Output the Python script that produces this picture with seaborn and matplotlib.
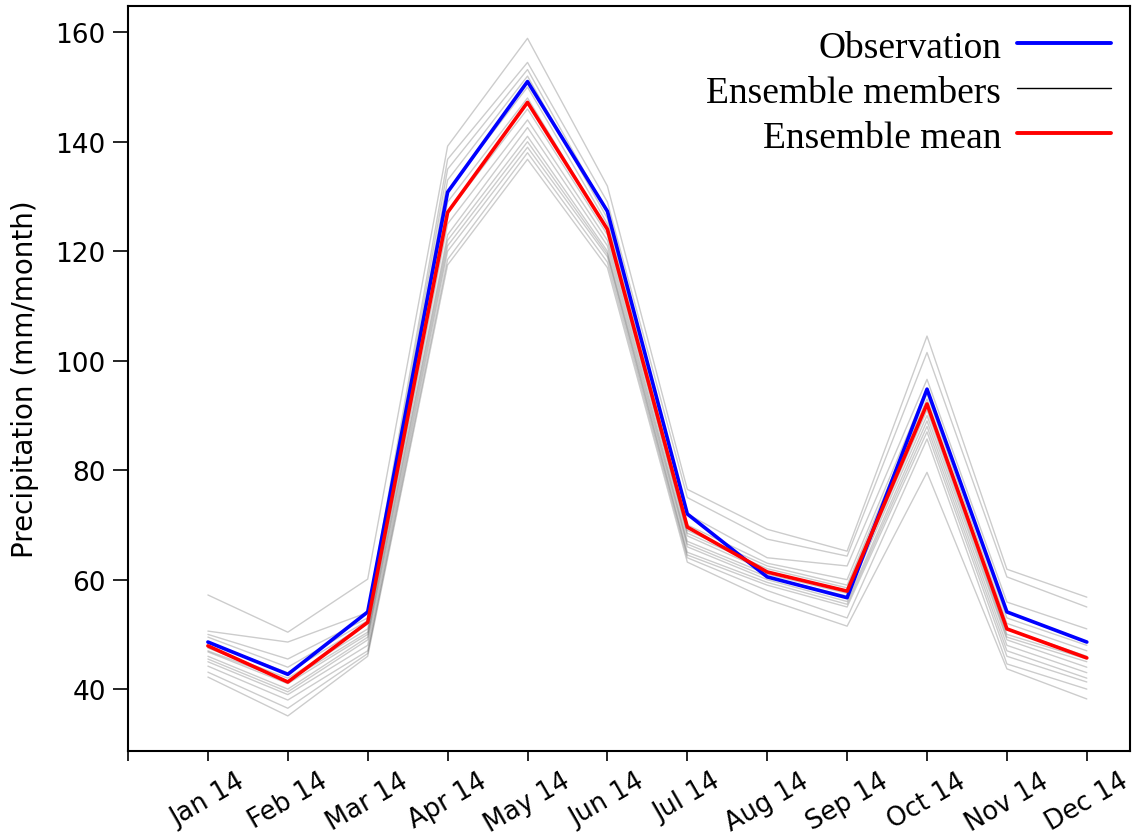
import numpy as np
import pandas as pd
import matplotlib
matplotlib.use("Agg")
import matplotlib.pyplot as plt
from matplotlib.lines import Line2D
import seaborn as sns

months = ["Jan 14", "Feb 14", "Mar 14", "Apr 14", "May 14", "Jun 14",
          "Jul 14", "Aug 14", "Sep 14", "Oct 14", "Nov 14", "Dec 14"]
tick_labels = [""] + months

observation = [48.6, 42.7, 54.1, 130.8, 151.0, 127.3, 72.0, 60.5, 56.7, 94.8, 54.1, 48.6]
ensemble_mean = [47.9, 41.3, 52.2, 127.1, 147.2, 124.0, 69.6, 61.4, 57.9, 92.1, 51.0, 45.7]

member_01 = [57.2, 50.4, 60.1, 139.2, 158.9, 131.9, 76.5, 69.2, 65.2, 104.5, 61.9, 56.8]
member_02 = [50.6, 48.6, 54.0, 136.8, 154.5, 129.0, 75.0, 67.4, 64.3, 101.5, 60.5, 55.0]
member_03 = [50.0, 45.5, 53.0, 135.0, 153.2, 127.0, 72.0, 64.0, 62.5, 96.6, 55.9, 51.0]
member_04 = [49.5, 44.0, 52.5, 133.0, 152.0, 126.0, 70.0, 63.0, 60.0, 95.0, 53.0, 48.0]
member_05 = [48.5, 43.0, 52.0, 131.0, 150.0, 125.0, 69.0, 62.5, 59.0, 94.0, 52.0, 47.0]
member_06 = [47.5, 42.0, 51.0, 129.0, 148.0, 124.0, 68.5, 62.0, 58.5, 93.0, 51.0, 46.0]
member_07 = [47.0, 41.5, 50.4, 127.0, 146.0, 123.0, 68.0, 61.5, 58.0, 92.0, 50.0, 45.5]
member_08 = [46.8, 41.0, 50.0, 125.0, 144.0, 122.0, 67.0, 61.0, 57.5, 91.0, 49.5, 45.0]
member_09 = [46.0, 40.0, 49.5, 123.0, 142.6, 121.0, 66.5, 60.5, 57.0, 90.0, 49.0, 44.0]
member_10 = [45.5, 39.5, 49.0, 122.0, 141.0, 120.0, 66.0, 60.0, 56.0, 89.0, 48.0, 43.0]
member_11 = [45.0, 39.0, 48.0, 121.0, 140.0, 119.5, 65.0, 59.5, 55.5, 88.0, 47.0, 42.0]
member_12 = [44.2, 38.0, 47.0, 120.0, 139.0, 119.0, 64.5, 59.0, 55.0, 87.0, 46.0, 41.3]
member_13 = [43.1, 36.5, 46.5, 118.5, 138.0, 118.0, 64.0, 58.0, 53.0, 85.7, 44.6, 40.0]
member_14 = [42.2, 35.1, 46.0, 117.5, 136.8, 117.0, 63.2, 56.4, 51.5, 79.6, 43.7, 38.2]

members = [member_01, member_02, member_03, member_04, member_05, member_06, member_07,
           member_08, member_09, member_10, member_11, member_12, member_13, member_14]

x_idx = np.arange(len(months))
df_members = pd.DataFrame(
    [(m, i, v) for m, series in enumerate(members) for i, v in zip(x_idx, series)],
    columns=["member", "month", "value"],
)
df_obs = pd.DataFrame({"month": x_idx, "value": observation})
df_mean = pd.DataFrame({"month": x_idx, "value": ensemble_mean})

sns.set_style("white")
plt.rcParams["font.family"] = ["DejaVu Sans"]
plt.rcParams["text.color"] = "black"
plt.rcParams["axes.labelcolor"] = "black"
plt.rcParams["xtick.color"] = "black"
plt.rcParams["ytick.color"] = "black"

fig = plt.figure(figsize=(11.46, 8.37), dpi=100)
ax = fig.add_axes([0.1117, 0.1016, 0.8743, 0.89])

sns.lineplot(data=df_members, x="month", y="value", units="member", estimator=None,
             color="k", alpha=0.2, linewidth=1.0, ax=ax, legend=False)
sns.lineplot(data=df_obs, x="month", y="value", color="#0000ff", linewidth=2.6,
             ax=ax, legend=False)
sns.lineplot(data=df_mean, x="month", y="value", color="#ff0000", linewidth=2.6,
             ax=ax, legend=False)

ax.set_xlim(-1, 11.54)
ax.set_ylim(28.7, 164.8)
ax.set_xticks(np.arange(-1, len(months)))
ax.set_xticklabels(tick_labels, rotation=30, ha="center", fontsize=18.5)
ax.set_yticks([40, 60, 80, 100, 120, 140, 160])
ax.tick_params(axis="y", labelsize=19, length=11, width=1.2, pad=5, left=True)
ax.tick_params(axis="x", length=7, width=1.2, pad=5, bottom=True)
ax.set_xlabel("")
ax.set_ylabel("Precipitation (mm/month)", fontsize=20, labelpad=12)
for s in ax.spines.values():
    s.set_visible(True)
    s.set_color("k")
    s.set_linewidth(1.5)

handles = [Line2D([], [], color="#0000ff", lw=2.8),
           Line2D([], [], color="k", lw=1.0),
           Line2D([], [], color="#ff0000", lw=2.8)]
labels = ["Observation", "Ensemble members", "Ensemble mean"]
ax.legend(handles, labels, loc="upper right", bbox_to_anchor=(1.007, 1.003),
          frameon=False, markerfirst=False,
          handlelength=2.5, handletextpad=0.42, labelspacing=0.28,
          borderaxespad=0.3, borderpad=0.4,
          prop={"family": "Liberation Serif", "size": 27})

fig.savefig("out.png", dpi=100)
